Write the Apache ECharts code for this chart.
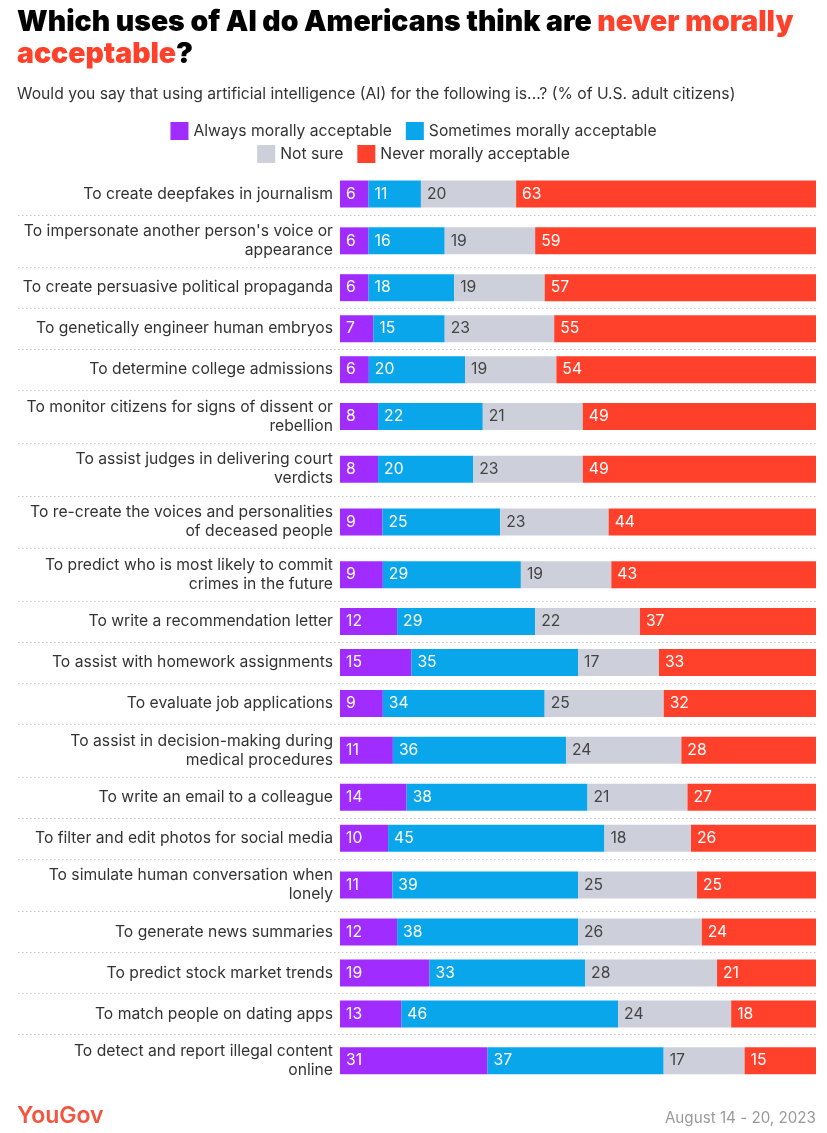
<!DOCTYPE html>
<html>
<head>
<meta charset="utf-8">
<script src="https://cdn.jsdelivr.net/npm/echarts@6/dist/echarts.min.js"></script>
<style>
html,body{margin:0;padding:0;background:#fff;}
#chart{width:827px;height:1133px;}
</style>
</head>
<body>
<div id="chart"></div>
<script>
const categories = [
  'To create deepfakes in journalism',
  "To impersonate another person's voice or\nappearance",
  'To create persuasive political propaganda',
  'To genetically engineer human embryos',
  'To determine college admissions',
  'To monitor citizens for signs of dissent or\nrebellion',
  'To assist judges in delivering court\nverdicts',
  'To re-create the voices and personalities\nof deceased people',
  'To predict who is most likely to commit\ncrimes in the future',
  'To write a recommendation letter',
  'To assist with homework assignments',
  'To evaluate job applications',
  'To assist in decision-making during\nmedical procedures',
  'To write an email to a colleague',
  'To filter and edit photos for social media',
  'To simulate human conversation when\nlonely',
  'To generate news summaries',
  'To predict stock market trends',
  'To match people on dating apps',
  'To detect and report illegal content\nonline'
];
const seriesNames = ['Always morally acceptable', 'Sometimes morally acceptable', 'Not sure', 'Never morally acceptable'];
const always    = [6, 6, 6, 7, 6, 8, 8, 9, 9, 12, 15, 9, 11, 14, 10, 11, 12, 19, 13, 31];
const sometimes = [11, 16, 18, 15, 20, 22, 20, 25, 29, 29, 35, 34, 36, 38, 45, 39, 38, 33, 46, 37];
const notSure   = [20, 19, 19, 23, 19, 21, 23, 23, 19, 22, 17, 25, 24, 21, 18, 25, 26, 28, 24, 17];
const never     = [63, 59, 57, 55, 54, 49, 49, 44, 43, 37, 33, 32, 28, 27, 26, 25, 24, 21, 18, 15];

const colors = ['#a02cff', '#09a6ec', '#cdd0da', '#ff412c'];
const labelColors = ['#ffffff', '#ffffff', '#444444', '#ffffff'];
const FONT = 'Inter, "Noto Sans", sans-serif';
const FS = 15.7;

const values = [always, sometimes, notSure, never];
const chart = echarts.init(document.getElementById('chart'));

const grids = [], xAxes = [], yAxes = [], series = [], graphics = [];
const H1 = 41, H2 = 52.7, BAR = 27;
let y = 173.5;
categories.forEach((cat, i) => {
  const lines = cat.split('\n').length;
  const h = lines > 1 ? H2 : H1;
  if (i > 0) {
    graphics.push({
      type: 'line', silent: true,
      shape: { x1: 18, y1: Math.round(y) + 0.5, x2: 816, y2: Math.round(y) + 0.5 },
      style: { stroke: '#c8c8c8', lineWidth: 1, lineDash: [1.5, 2.5] }
    });
  }
  grids.push({ left: 340, right: 11, top: y, height: h });
  let total = 0;
  values.forEach(v => total += v[i]);
  xAxes.push({ type: 'value', gridIndex: i, min: 0, max: total, show: false });
  yAxes.push({
    type: 'category', gridIndex: i, data: [cat],
    axisLine: { show: false }, axisTick: { show: false }, splitLine: { show: false },
    axisLabel: { margin: 7, color: '#333', fontSize: FS, fontFamily: FONT, lineHeight: 19, align: 'right' }
  });
  values.forEach((v, k) => {
    series.push({
      type: 'bar', name: seriesNames[k], stack: 'row' + i,
      xAxisIndex: i, yAxisIndex: i, barWidth: BAR,
      itemStyle: { color: colors[k] },
      label: {
        show: true, position: 'insideLeft', distance: 6,
        color: labelColors[k], fontSize: FS, fontFamily: FONT,
        formatter: p => p.value
      },
      emphasis: { disabled: true },
      data: [v[i]]
    });
  });
  y += h;
});

graphics.push({
  type: 'text', left: 17, top: 1105,
  style: { text: 'YouGov', fill: '#f3553f', font: '600 23px ' + FONT }
});
graphics.push({
  type: 'text', right: 11, top: 1111,
  style: { text: 'August 14 - 20, 2023', fill: '#9a9a9a', font: '15.2px ' + FONT }
});

const legendCommon = {
  icon: 'rect', itemWidth: 18, itemHeight: 18, itemGap: 14, itemStyle: { borderWidth: 0 },
  textStyle: { color: '#333', fontSize: FS, fontFamily: FONT, padding: [0, 0, 0, 0] },
  selectedMode: false
};

chart.setOption({
  animation: false,
  backgroundColor: '#fff',
  title: [
    {
      left: 17, top: 6, padding: 0,
      text: '{b|Which uses of AI do Americans think are }{r|never morally}\n{r|acceptable}{b|?}',
      textStyle: {
        rich: {
          b: { fontSize: 28.4, fontWeight: 900, color: '#000', fontFamily: FONT, lineHeight: 32 },
          r: { fontSize: 28.4, fontWeight: 900, color: '#ff412c', fontFamily: FONT, lineHeight: 32 }
        }
      }
    },
    {
      left: 17, top: 86, padding: 0,
      text: 'Would you say that using artificial intelligence (AI) for the following is...? (% of U.S. adult citizens)',
      textStyle: { fontSize: FS, fontWeight: 400, color: '#333', fontFamily: FONT }
    }
  ],
  legend: [
    Object.assign({ top: 117, left: 'center', data: [seriesNames[0], seriesNames[1]] }, legendCommon),
    Object.assign({ top: 140, left: 'center', data: [seriesNames[2], seriesNames[3]] }, legendCommon)
  ],
  grid: grids,
  xAxis: xAxes,
  yAxis: yAxes,
  series: series,
  graphic: graphics
});
</script>
</body>
</html>
